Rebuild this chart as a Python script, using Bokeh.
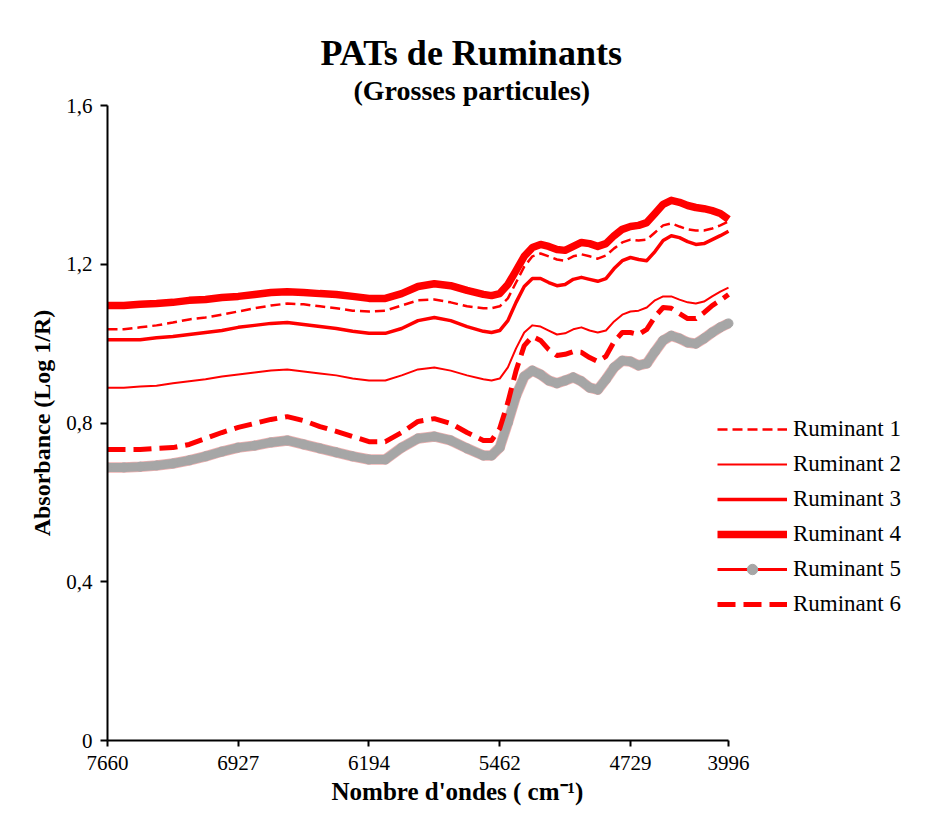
from bokeh.plotting import figure
from bokeh.models import Range1d, FixedTicker, Legend, LegendItem, Title
from bokeh.embed import file_html
from bokeh.resources import INLINE

# ---------------- data ----------------
# x = channel index along the (category-like) wavenumber axis
channel = [0, 2, 4, 6, 8, 10, 12, 14, 16, 18, 20, 22, 24, 26, 28, 30, 32, 34, 36, 38, 40, 42, 44, 46,
           47, 48, 49, 50, 51, 52, 53, 54, 55, 56, 57, 58, 59, 60, 61, 62, 63, 64, 65, 66, 67, 68, 69,
           70, 71, 72, 73, 74, 75, 76]

tick_positions = [0, 16, 32, 48, 64, 76]
tick_labels = ["7660", "6927", "6194", "5462", "4729", "3996"]

y_ticks = [0, 0.4, 0.8, 1.2, 1.6]
y_tick_labels = ["0", "0,4", "0,8", "1,2", "1,6"]

series_names = ["Ruminant 1", "Ruminant 2", "Ruminant 3", "Ruminant 4", "Ruminant 5", "Ruminant 6"]

ruminant_1 = [1.036, 1.036, 1.041, 1.046, 1.053, 1.061, 1.066, 1.073, 1.081, 1.089, 1.096, 1.101,
              1.099, 1.094, 1.089, 1.083, 1.081, 1.083, 1.096, 1.109, 1.111, 1.104, 1.094, 1.089,
              1.089, 1.094, 1.114, 1.154, 1.194, 1.220, 1.227, 1.220, 1.212, 1.209, 1.220, 1.225,
              1.220, 1.214, 1.222, 1.240, 1.255, 1.262, 1.260, 1.262, 1.280, 1.298, 1.303, 1.295,
              1.288, 1.285, 1.285, 1.290, 1.298, 1.308]
ruminant_2 = [0.889, 0.889, 0.892, 0.894, 0.900, 0.905, 0.910, 0.917, 0.922, 0.927, 0.932, 0.935,
              0.930, 0.925, 0.920, 0.912, 0.907, 0.907, 0.920, 0.935, 0.940, 0.932, 0.920, 0.910,
              0.907, 0.912, 0.940, 0.988, 1.028, 1.046, 1.043, 1.033, 1.023, 1.026, 1.036, 1.041,
              1.033, 1.028, 1.033, 1.056, 1.073, 1.081, 1.083, 1.091, 1.109, 1.119, 1.119, 1.111,
              1.104, 1.101, 1.106, 1.119, 1.131, 1.141]
ruminant_3 = [1.010, 1.010, 1.010, 1.015, 1.018, 1.023, 1.028, 1.033, 1.041, 1.046, 1.051, 1.053,
              1.048, 1.043, 1.038, 1.031, 1.026, 1.026, 1.038, 1.058, 1.066, 1.058, 1.043, 1.031,
              1.028, 1.033, 1.058, 1.104, 1.144, 1.164, 1.164, 1.154, 1.146, 1.149, 1.162, 1.167,
              1.162, 1.157, 1.164, 1.189, 1.209, 1.217, 1.212, 1.209, 1.232, 1.260, 1.272, 1.267,
              1.257, 1.250, 1.252, 1.262, 1.272, 1.283]
ruminant_4 = [1.096, 1.096, 1.099, 1.101, 1.104, 1.109, 1.111, 1.116, 1.119, 1.124, 1.129, 1.131,
              1.129, 1.126, 1.124, 1.119, 1.114, 1.114, 1.126, 1.144, 1.151, 1.146, 1.134, 1.124,
              1.121, 1.126, 1.149, 1.184, 1.220, 1.242, 1.250, 1.245, 1.237, 1.235, 1.245, 1.255,
              1.252, 1.245, 1.252, 1.272, 1.288, 1.295, 1.298, 1.305, 1.328, 1.351, 1.361, 1.356,
              1.348, 1.343, 1.340, 1.335, 1.328, 1.313]
ruminant_5 = [0.688, 0.688, 0.690, 0.693, 0.698, 0.706, 0.716, 0.728, 0.738, 0.743, 0.751, 0.756,
              0.746, 0.736, 0.726, 0.716, 0.708, 0.708, 0.738, 0.761, 0.766, 0.756, 0.736, 0.718,
              0.718, 0.738, 0.801, 0.869, 0.917, 0.932, 0.922, 0.907, 0.900, 0.907, 0.915, 0.905,
              0.889, 0.884, 0.910, 0.940, 0.957, 0.955, 0.945, 0.950, 0.980, 1.008, 1.020, 1.013,
              1.003, 1.000, 1.013, 1.028, 1.041, 1.051]
ruminant_6 = [0.733, 0.733, 0.733, 0.736, 0.738, 0.746, 0.761, 0.776, 0.789, 0.799, 0.809, 0.816,
              0.806, 0.791, 0.779, 0.766, 0.753, 0.753, 0.776, 0.804, 0.811, 0.799, 0.776, 0.756,
              0.756, 0.786, 0.852, 0.932, 0.995, 1.018, 1.008, 0.985, 0.970, 0.973, 0.980, 0.978,
              0.965, 0.955, 0.968, 1.005, 1.028, 1.028, 1.023, 1.036, 1.068, 1.091, 1.089, 1.076,
              1.063, 1.063, 1.078, 1.096, 1.109, 1.124]

# ---------------- figure ----------------
FONT = "Liberation Serif"
RED = "#FF0000"
GREY = "#A6A6A6"

# geometry: axis drawn over 621 px, frame widened to the right to host the legend
AXIS_PX = 621
FRAME_PX = 808
x_end = tick_positions[-1] * FRAME_PX / AXIS_PX

p = figure(width=925, height=814, output_backend="svg", toolbar_location=None, title=None,
           x_range=Range1d(0, x_end), y_range=Range1d(0, 1.6),
           min_border_left=107, min_border_right=10, min_border_top=105, min_border_bottom=74)
p.outline_line_color = None
p.grid.visible = False
p.background_fill_color = "white"
p.border_fill_color = "white"

# axes
p.xaxis.ticker = FixedTicker(ticks=tick_positions)
p.xaxis.bounds = (0, tick_positions[-1])
p.xaxis.major_label_overrides = {t: l for t, l in zip(tick_positions, tick_labels)}
p.yaxis.ticker = FixedTicker(ticks=y_ticks)
p.yaxis.major_label_overrides = {t: l for t, l in zip(y_ticks, y_tick_labels)}
for ax in (p.xaxis[0], p.yaxis[0]):
    ax.axis_line_width = 2
    ax.axis_line_color = "black"
    ax.major_tick_line_width = 2
    ax.major_tick_line_color = "black"
    ax.major_tick_in = 0
    ax.minor_tick_line_color = None
    ax.major_label_text_font = FONT
    ax.major_label_text_font_size = "21px"
    ax.major_label_text_color = "black"
    ax.axis_label_text_font = FONT
    ax.axis_label_text_font_style = "bold"
    ax.axis_label_text_font_size = "24px"
    ax.axis_label_text_color = "black"
p.xaxis.major_tick_out = 6
p.xaxis.major_label_standoff = 9
p.yaxis.major_tick_out = 7
p.yaxis.major_label_standoff = 8
p.yaxis.axis_label = "Absorbance (Log 1/R)"
p.yaxis.axis_label_standoff = 8

# series
r1 = p.line(channel, ruminant_1, line_color=RED, line_width=2.5, line_dash="10 5", line_join="round")
r2 = p.line(channel, ruminant_2, line_color=RED, line_width=2, line_join="round")
r3 = p.line(channel, ruminant_3, line_color=RED, line_width=3.5, line_join="round")
r4 = p.line(channel, ruminant_4, line_color=RED, line_width=7.5, line_join="round")
r5 = p.line(channel, ruminant_5, line_color=RED, line_width=3, line_join="round")
p.line(channel, ruminant_5, line_color="#E06060", line_alpha=0.5, line_width=10.5, line_join="round")
p.line(channel, ruminant_5, line_color=GREY, line_width=9, line_join="round")
r5m = p.scatter(channel, ruminant_5, marker="circle", size=9, fill_color=GREY, line_color=GREY)
r6 = p.line(channel, ruminant_6, line_color=RED, line_width=5, line_dash="18 8", line_join="round")

legend = Legend(items=[
    LegendItem(label=series_names[0], renderers=[r1]),
    LegendItem(label=series_names[1], renderers=[r2]),
    LegendItem(label=series_names[2], renderers=[r3]),
    LegendItem(label=series_names[3], renderers=[r4]),
    LegendItem(label=series_names[4], renderers=[r5, r5m]),
    LegendItem(label=series_names[5], renderers=[r6]),
], location=(610, 123))
legend.ncols = 1
legend.orientation = "vertical"
legend.padding = 0
legend.margin = 0
legend.border_line_color = None
legend.background_fill_alpha = 0
legend.glyph_width = 70
legend.glyph_height = 26
legend.label_height = 26
legend.spacing = 9
legend.label_standoff = 6
legend.label_text_font = FONT
legend.label_text_font_size = "23px"
legend.label_text_color = "black"
p.add_layout(legend, "center")

# titles (first added sits closest to the plot)
p.add_layout(Title(text="(Grosses particules)", align="left", offset=246, standoff=0,
                   text_font=FONT, text_font_style="bold", text_font_size="28px",
                   text_color="black"), "above")
p.add_layout(Title(text="PATs de Ruminants", align="left", offset=213, standoff=0,
                   text_font=FONT, text_font_style="bold", text_font_size="36px",
                   text_color="black"), "above")

# x-axis title, centred under the drawn axis (not under the widened frame)
p.add_layout(Title(text="Nombre d'ondes ( cm\u207b\u00b9)", align="left", offset=224, standoff=6,
                   text_font=FONT, text_font_style="bold", text_font_size="25px",
                   text_color="black"), "below")

open("out.html", "w").write(file_html(p, INLINE))
